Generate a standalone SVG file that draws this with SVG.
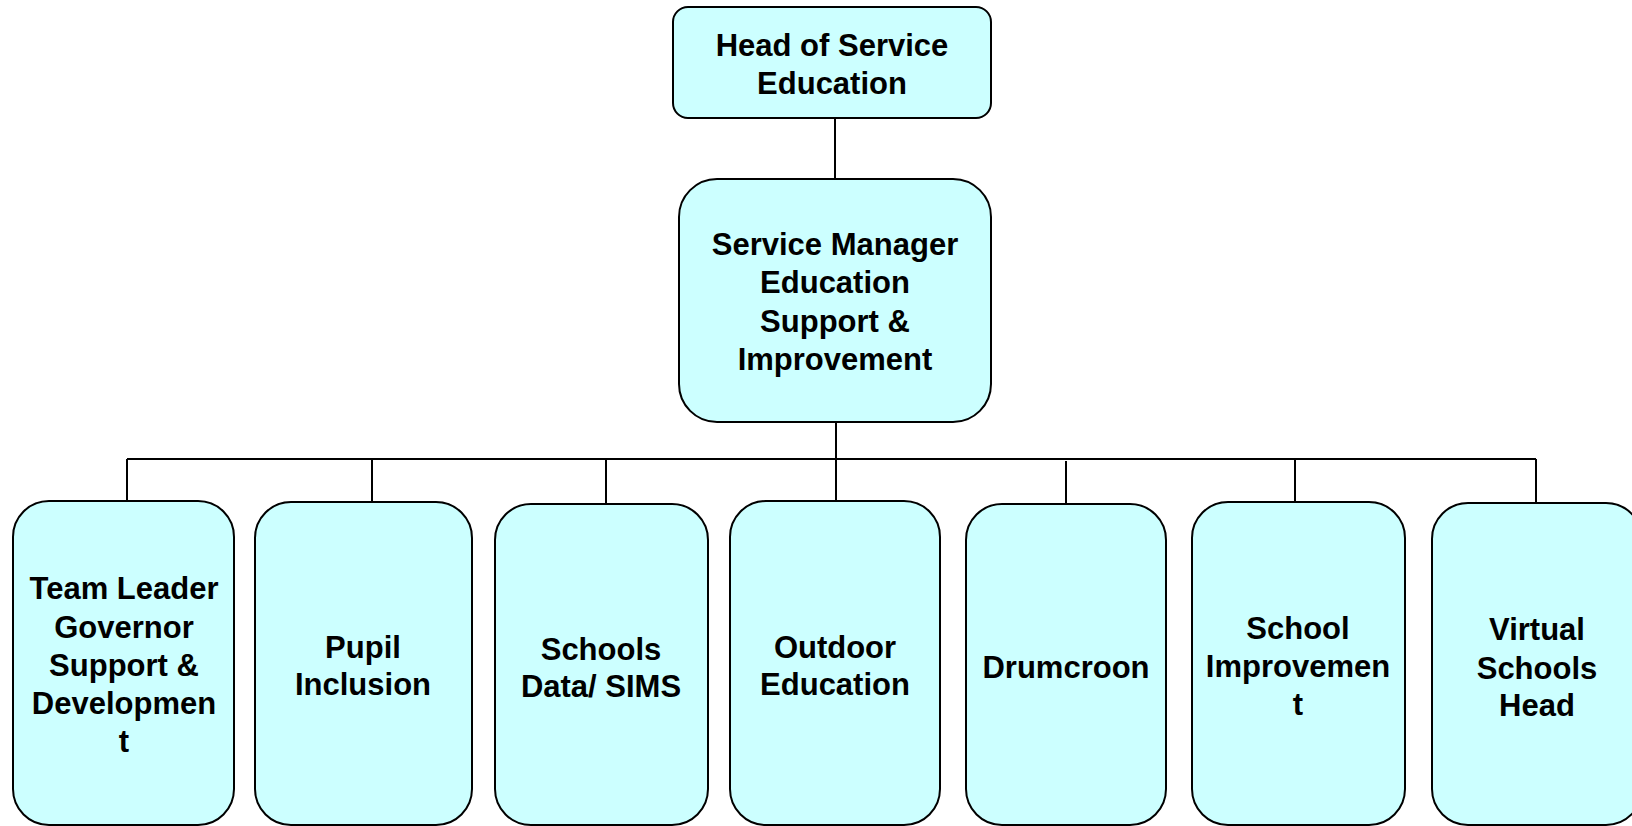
<svg xmlns="http://www.w3.org/2000/svg" width="1632" height="826" viewBox="0 0 1632 826">
<style>
.box{fill:#CCFFFF;stroke:#000;stroke-width:2}
.lbl{font-family:"Liberation Sans",Arial,sans-serif;font-weight:bold;font-size:31px;fill:#000;text-anchor:middle}
.conn{stroke:#000;stroke-width:2;fill:none}
</style>
<rect width="1632" height="826" fill="#fff"/>
<g id="connectors">
<line class="conn" x1="835" y1="118" x2="835" y2="179"/>
<line class="conn" x1="836" y1="422" x2="836" y2="459"/>
<line class="conn" x1="127" y1="459" x2="1536" y2="459"/>
<line class="conn" x1="127" y1="459" x2="127" y2="501"/>
<line class="conn" x1="372" y1="459" x2="372" y2="502"/>
<line class="conn" x1="606" y1="459" x2="606" y2="504"/>
<line class="conn" x1="836" y1="459" x2="836" y2="501"/>
<line class="conn" x1="1066" y1="461" x2="1066" y2="504"/>
<line class="conn" x1="1295" y1="459" x2="1295" y2="502"/>
<line class="conn" x1="1536" y1="459" x2="1536" y2="503"/>
</g>
<g id="head">
<rect class="box" x="673" y="7" width="318" height="111" rx="15"/>
<text class="lbl" x="832" y="56">Head of Service</text>
<text class="lbl" x="832" y="94">Education</text>
</g>
<g id="manager">
<rect class="box" x="679" y="179" width="312" height="243" rx="38"/>
<text class="lbl" x="835" y="255">Service Manager</text>
<text class="lbl" x="835" y="293">Education</text>
<text class="lbl" x="835" y="332">Support &amp;</text>
<text class="lbl" x="835" y="370">Improvement</text>
</g>
<g id="team-leader">
<rect class="box" x="13" y="501" width="221" height="324" rx="36"/>
<text class="lbl" x="124" y="599">Team Leader</text>
<text class="lbl" x="124" y="638">Governor</text>
<text class="lbl" x="124" y="676">Support &amp;</text>
<text class="lbl" x="124" y="714">Developmen</text>
<text class="lbl" x="124" y="752">t</text>
</g>
<g id="pupil-inclusion">
<rect class="box" x="255" y="502" width="217" height="323" rx="36"/>
<text class="lbl" x="363" y="658">Pupil</text>
<text class="lbl" x="363" y="695">Inclusion</text>
</g>
<g id="schools-data">
<rect class="box" x="495" y="504" width="213" height="321" rx="36"/>
<text class="lbl" x="601" y="660">Schools</text>
<text class="lbl" x="601" y="697">Data/ SIMS</text>
</g>
<g id="outdoor-education">
<rect class="box" x="730" y="501" width="210" height="324" rx="36"/>
<text class="lbl" x="835" y="658">Outdoor</text>
<text class="lbl" x="835" y="695">Education</text>
</g>
<g id="drumcroon">
<rect class="box" x="966" y="504" width="200" height="321" rx="36"/>
<text class="lbl" x="1066" y="678">Drumcroon</text>
</g>
<g id="school-improvement">
<rect class="box" x="1192" y="502" width="213" height="323" rx="36"/>
<text class="lbl" x="1298" y="639">School</text>
<text class="lbl" x="1298" y="677">Improvemen</text>
<text class="lbl" x="1298" y="715">t</text>
</g>
<g id="virtual-schools">
<rect class="box" x="1432" y="503" width="210" height="322" rx="36"/>
<text class="lbl" x="1537" y="640">Virtual</text>
<text class="lbl" x="1537" y="679">Schools</text>
<text class="lbl" x="1537" y="716">Head</text>
</g>
</svg>
